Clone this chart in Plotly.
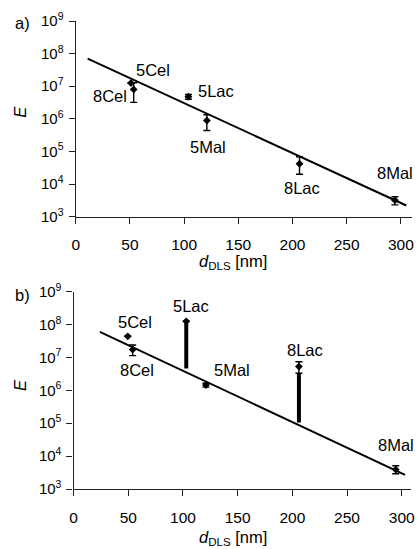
import numpy as np
import plotly.graph_objects as go

# ---------------- data ----------------
names = ["5Cel", "8Cel", "5Lac", "5Mal", "8Lac", "8Mal"]

# panel a
a_x = [51, 53.5, 104, 121, 206.5, 294.5]
a_E = [1.25e7, 8.0e6, 4.8e6, 8.9e5, 4.2e4, 3.2e3]
a_err_plus = [0, 4.8e6, 0.8e6, 4.5e5, 2.7e4, 0.9e3]
a_err_minus = [0, 4.8e6, 0.8e6, 4.5e5, 2.2e4, 0.9e3]
a_fit_x = [11, 305]
a_fit_E = [7.0e7, 2.2e3]

# panel b
b_x = [49.5, 54, 103, 121, 206, 294.5]
b_E = [4.4e7, 1.74e7, 1.26e8, 1.45e6, 5.3e6, 3.9e3]
b_err_plus = [0, 6.5e6, 0, 2.0e5, 2.1e6, 1.2e3]
b_err_minus = [0, 6.0e6, 0, 2.0e5, 2.0e6, 1.0e3]
b_fit_x = [24, 303]
b_fit_E = [6.0e7, 2.7e3]
# thick range bars in panel b
b_bar_x = [103, 206]
b_bar_top = [1.26e8, 3.3e6]
b_bar_bottom = [4.6e6, 1.05e5]

x_ticks = [0, 50, 100, 150, 200, 250, 300]
y_exps = [3, 4, 5, 6, 7, 8, 9]

# label offsets (pixels) relative to each point
a_label_shift = [(22, 13), (-24, -7), (28, 6), (1, -26), (2, -24), (0, 27)]
b_label_shift = [(7, 14), (4, -20), (5, 15), (26, 15), (6, 17), (0, 25)]

FONT = "Arial, Liberation Sans, sans-serif"
AX = "#222222"

fig = go.Figure()

def add_panel(xs, Es, ep, em, fx, fE, xa, ya):
    fig.add_trace(go.Scatter(x=fx, y=fE, mode="lines", xaxis=xa, yaxis=ya,
                             line=dict(color="black", width=2), showlegend=False,
                             hoverinfo="skip"))
    fig.add_trace(go.Scatter(x=xs, y=Es, mode="markers", xaxis=xa, yaxis=ya,
                             marker=dict(symbol="diamond", size=6, color="black"),
                             error_y=dict(type="data", symmetric=False, array=ep,
                                          arrayminus=em, color="black",
                                          thickness=1.4, width=3.5),
                             showlegend=False, cliponaxis=False))

add_panel(a_x, a_E, a_err_plus, a_err_minus, a_fit_x, a_fit_E, "x", "y")

bx, by = [], []
for x, t, b in zip(b_bar_x, b_bar_top, b_bar_bottom):
    bx += [x, x, None]
    by += [t, b, None]
fig.add_trace(go.Scatter(x=bx, y=by, mode="lines", xaxis="x2", yaxis="y2",
                         line=dict(color="black", width=4), showlegend=False,
                         hoverinfo="skip"))
add_panel(b_x, b_E, b_err_plus, b_err_minus, b_fit_x, b_fit_E, "x2", "y2")

xax = dict(range=[0, 310], tickvals=x_ticks, ticktext=[str(v) for v in x_ticks],
           showline=True, linecolor=AX, linewidth=1.3, ticks="outside",
           ticklen=6, tickwidth=1.3, tickcolor=AX, showgrid=False, zeroline=False,
           automargin=False,
           tickfont=dict(family=FONT, size=15.5, color="black"), ticklabelstandoff=8)
yax = dict(type="log", range=[3, 9], tickvals=[10 ** e for e in y_exps],
           ticktext=["10<sup>%d</sup>" % e for e in y_exps],
           showline=True, linecolor=AX, linewidth=1.3, ticks="outside",
           ticklen=6, tickwidth=1.3, tickcolor=AX, showgrid=False, zeroline=False,
           automargin=False,
           tickfont=dict(family=FONT, size=15, color="black"), ticklabelstandoff=2)

W, H = 417, 549
fig.update_layout(
    width=W, height=H, margin=dict(l=0, r=0, t=0, b=0, autoexpand=False),
    paper_bgcolor="white", plot_bgcolor="white",
    xaxis=dict(xax, domain=[75.7 / W, 411.7 / W], anchor="y"),
    yaxis=dict(yax, domain=[1 - 216.7 / H, 1 - 21 / H], anchor="x"),
    xaxis2=dict(xax, domain=[73.6 / W, 410.5 / W], range=[0, 308], anchor="y2"),
    yaxis2=dict(yax, domain=[1 - 489 / H, 1 - 291.7 / H], anchor="x2"),
)

ann = []
lab_font = dict(family=FONT, size=16.5, color="black")
for xs, Es, shifts, xr, yr in [(a_x, a_E, a_label_shift, "x", "y"),
                               (b_x, b_E, b_label_shift, "x2", "y2")]:
    for n, x, e, (dx, dy) in zip(names, xs, Es, shifts):
        ann.append(dict(x=x, y=np.log10(e), xref=xr, yref=yr, text=n, showarrow=False,
                        xshift=dx, yshift=dy, font=lab_font,
                        xanchor="center", yanchor="middle"))

title_font = dict(family=FONT, size=16.5, color="black")
for yc, yt, ye, lab in [(262, 23.3, 111.7, "a)"), (537.5, 295, 385, "b)")]:
    ann.append(dict(x=233 / W, y=1 - yc / H, xref="paper", yref="paper",
                    text="<i>d</i><sub>DLS</sub> [nm]", showarrow=False,
                    font=title_font, xanchor="center", yanchor="middle"))
    ann.append(dict(x=22.7 / W, y=1 - yt / H, xref="paper", yref="paper",
                    text=lab, showarrow=False, font=title_font,
                    xanchor="center", yanchor="middle"))
    ann.append(dict(x=20 / W, y=1 - ye / H, xref="paper", yref="paper",
                    text="<i>E</i>", showarrow=False, font=title_font, textangle=-90,
                    xanchor="center", yanchor="middle"))
fig.update_layout(annotations=ann)

fig.write_html("out.html", config={"displayModeBar": False},
               post_script="document.body.style.margin='0px';"
                           "document.body.style.overflow='hidden';"
                           "document.documentElement.style.overflow='hidden';")
